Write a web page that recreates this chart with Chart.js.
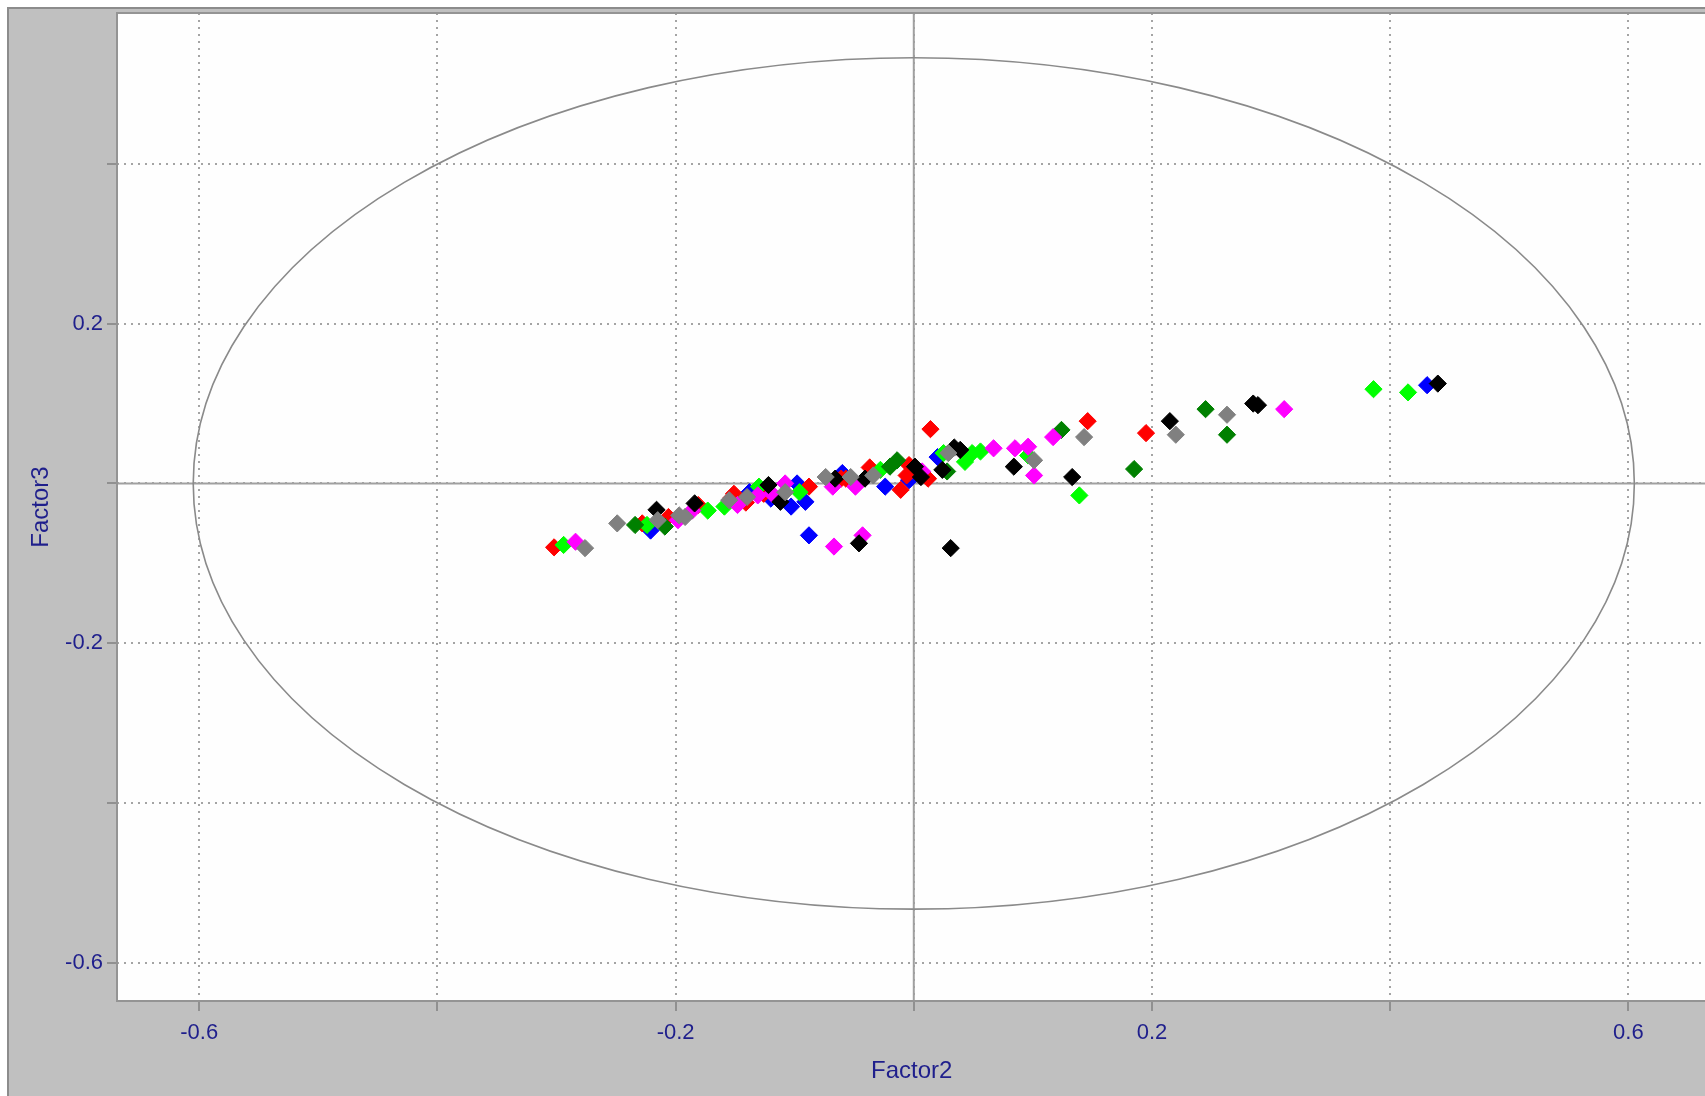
<!DOCTYPE html>
<html>
<head>
<meta charset="utf-8">
<script src="https://cdn.jsdelivr.net/npm/chart.js@4.4.0/dist/chart.umd.min.js"></script>
<style>
    html, body { margin: 0; padding: 0; background: #ffffff; overflow: hidden; }
    #wrap { width: 1716px; height: 1096px; position: relative; }
</style>
</head>
<body>
<div id="wrap"><canvas id="chart"></canvas></div>
<script>
// Axis ranges and ticks
const xRange = [-0.669, 0.6655];
const yRange = [-0.648, 0.589];
const xTicks = [-0.6, -0.4, -0.2, 0, 0.2, 0.4, 0.6];
const yTicks = [-0.6, -0.4, -0.2, 0, 0.2, 0.4];
const xTickLabels = ['-0.6', '-0.2', '0.2', '0.6'];
const yTickLabels = ['-0.6', '-0.2', '0.2'];
const xTitle = 'Factor2';
const yTitle = 'Factor3';

// Correlation ellipse (centre and radii, in axis units)
const ellipseCenter = [0, 0];
const ellipseRadius = [0.605, 0.533];

// Points per group [Factor2, Factor3]
const redPoints = [
    [-0.302, -0.080], [-0.228, -0.050], [-0.206, -0.042], [-0.181, -0.027], [-0.153, -0.018],
    [-0.151, -0.013], [-0.141, -0.024], [-0.126, -0.013], [-0.088, -0.004], [-0.061, 0.006],
    [-0.057, 0.006], [-0.037, 0.020], [-0.011, -0.008], [-0.006, 0.010], [-0.004, 0.023],
    [0.012, 0.006], [0.014, 0.068], [0.146, 0.078], [0.195, 0.063]
];
const limePoints = [
    [-0.294, -0.077], [-0.224, -0.052], [-0.173, -0.034], [-0.159, -0.029], [-0.130, -0.004],
    [-0.096, -0.011], [-0.028, 0.017], [0.025, 0.038], [0.043, 0.027], [0.049, 0.038],
    [0.056, 0.040], [0.096, 0.035], [0.139, -0.015], [0.386, 0.118], [0.415, 0.114]
];
const magentaPoints = [
    [-0.284, -0.073], [-0.198, -0.046], [-0.186, -0.034], [-0.148, -0.027], [-0.131, -0.015],
    [-0.119, -0.013], [-0.108, 0.000], [-0.068, -0.004], [-0.067, -0.079], [-0.049, -0.004],
    [-0.043, -0.065], [0.007, 0.015], [0.067, 0.044], [0.085, 0.044], [0.096, 0.046],
    [0.101, 0.010], [0.117, 0.058], [0.311, 0.093]
];
const greyPoints = [
    [-0.276, -0.081], [-0.249, -0.050], [-0.215, -0.046], [-0.197, -0.040], [-0.192, -0.042],
    [-0.155, -0.021], [-0.140, -0.017], [-0.108, -0.011], [-0.074, 0.008], [-0.053, 0.008],
    [-0.034, 0.010], [0.029, 0.038], [0.101, 0.029], [0.143, 0.058], [0.220, 0.061],
    [0.263, 0.086]
];
const darkGreenPoints = [
    [-0.234, -0.052], [-0.209, -0.054], [-0.020, 0.021], [-0.014, 0.029], [0.028, 0.015],
    [0.124, 0.067], [0.185, 0.018], [0.245, 0.093], [0.263, 0.061]
];
const blackPoints = [
    [-0.216, -0.033], [-0.184, -0.025], [-0.122, -0.002], [-0.112, -0.023], [-0.066, 0.006],
    [-0.046, -0.075], [-0.041, 0.006], [0.001, 0.021], [0.006, 0.008], [0.024, 0.017],
    [0.031, -0.081], [0.034, 0.045], [0.039, 0.042], [0.084, 0.021], [0.133, 0.008],
    [0.215, 0.078], [0.285, 0.100], [0.289, 0.098], [0.440, 0.125]
];
const bluePoints = [
    [-0.221, -0.059], [-0.138, -0.011], [-0.120, -0.019], [-0.103, -0.029], [-0.098, 0.000],
    [-0.091, -0.023], [-0.088, -0.065], [-0.060, 0.013], [-0.024, -0.004], [-0.004, 0.004],
    [0.020, 0.033], [0.431, 0.123]
];

// First dataset ends up on top
const groups = [
    { points: greyPoints, color: '#808080' },
    { points: blackPoints, color: '#000000' },
    { points: magentaPoints, color: '#ff00ff' },
    { points: darkGreenPoints, color: '#008000' },
    { points: limePoints, color: '#00ff00' },
    { points: redPoints, color: '#ff0000' },
    { points: bluePoints, color: '#0000ff' }
];

const labelColor = '#1f1f8c';
const fontFamily = "'Liberation Sans', Arial, sans-serif";

// Grey window background, white plot area, frames
const backgroundPlugin = {
    id: 'background',
    beforeDraw(chart) {
        const { ctx, chartArea } = chart;
        ctx.save();
        ctx.fillStyle = '#ffffff';
        ctx.fillRect(0, 0, chart.width, chart.height);
        ctx.fillStyle = '#c0c0c0';
        ctx.fillRect(7, 7, chart.width, chart.height);
        ctx.strokeStyle = '#8c8c8c';
        ctx.lineWidth = 2;
        ctx.strokeRect(8, 8, chart.width + 20, chart.height + 20);
        ctx.fillStyle = '#fefefe';
        ctx.fillRect(chartArea.left, chartArea.top, chartArea.right - chartArea.left + 20, chartArea.bottom - chartArea.top);
        ctx.restore();
    }
};

// Zero axes, ellipse and plot frame
const overlayPlugin = {
    id: 'overlay',
    beforeDatasetsDraw(chart) {
        const { ctx, chartArea, scales } = chart;
        const x = scales.x;
        const y = scales.y;
        ctx.save();
        ctx.strokeStyle = '#a0a0a0';
        ctx.lineWidth = 2;
        ctx.beginPath();
        ctx.moveTo(x.getPixelForValue(0), chartArea.top);
        ctx.lineTo(x.getPixelForValue(0), chartArea.bottom);
        ctx.moveTo(chartArea.left, y.getPixelForValue(0));
        ctx.lineTo(chartArea.right + 20, y.getPixelForValue(0));
        ctx.stroke();

        const cx = x.getPixelForValue(ellipseCenter[0]);
        const cy = y.getPixelForValue(ellipseCenter[1]);
        const rx = x.getPixelForValue(ellipseCenter[0] + ellipseRadius[0]) - cx;
        const ry = cy - y.getPixelForValue(ellipseCenter[1] + ellipseRadius[1]);
        ctx.strokeStyle = '#8a8a8a';
        ctx.lineWidth = 1.6;
        ctx.beginPath();
        ctx.ellipse(cx, cy, rx, ry, 0, 0, Math.PI * 2);
        ctx.stroke();

        ctx.strokeStyle = '#949494';
        ctx.lineWidth = 2;
        ctx.strokeRect(chartArea.left, chartArea.top, chartArea.right - chartArea.left + 20, chartArea.bottom - chartArea.top);
        ctx.restore();
    }
};

function tickLabel(list) {
    return function (value) {
        const s = (Math.round(value * 10) / 10).toFixed(1);
        return list.includes(s) ? s : '';
    };
}

// Fixed axis boxes, no extra room for edge labels
function fixBox(size) {
    return function (scale) {
        if (scale.isHorizontal()) {
            scale.height = size;
        } else {
            scale.width = size;
        }
        scale.paddingTop = 0;
        scale.paddingBottom = 0;
        scale.paddingLeft = 0;
        scale.paddingRight = 0;
    };
}

const ctx = document.getElementById('chart').getContext('2d');
new Chart(ctx, {
    type: 'scatter',
    data: {
        datasets: groups.map(g => ({
            data: g.points.map(p => ({ x: p[0], y: p[1] })),
            pointStyle: 'rectRot',
            pointRadius: 8.6,
            pointBorderWidth: 1,
            backgroundColor: g.color,
            borderColor: g.color
        }))
    },
    options: {
        responsive: true,
        maintainAspectRatio: false,
        animation: false,
        events: [],
        layout: { padding: { top: 13, left: 0, right: 0, bottom: 0 } },
        plugins: {
            legend: { display: false },
            tooltip: { enabled: false }
        },
        scales: {
            x: {
                type: 'linear',
                min: xRange[0],
                max: xRange[1],
                afterBuildTicks: scale => { scale.ticks = xTicks.map(v => ({ value: v })); },
                afterFit: fixBox(95),
                border: { display: false, dash: [2, 5] },
                grid: {
                    color: '#a4a4a4',
                    lineWidth: 2,
                    drawTicks: true,
                    tickLength: 10,
                    tickColor: '#909090',
                    tickWidth: 2
                },
                ticks: {
                    autoSkip: false,
                    maxRotation: 0,
                    padding: 9,
                    color: labelColor,
                    font: { family: fontFamily, size: 22 },
                    callback: tickLabel(xTickLabels)
                },
                title: {
                    display: true,
                    text: xTitle,
                    color: labelColor,
                    font: { family: fontFamily, size: 24 },
                    padding: { top: 0, bottom: 10 }
                }
            },
            y: {
                type: 'linear',
                min: yRange[0],
                max: yRange[1],
                afterBuildTicks: scale => { scale.ticks = yTicks.map(v => ({ value: v })); },
                afterFit: fixBox(117),
                border: { display: false, dash: [2, 5] },
                grid: {
                    color: '#a4a4a4',
                    lineWidth: 2,
                    drawTicks: true,
                    tickLength: 10,
                    tickColor: '#909090',
                    tickWidth: 2
                },
                ticks: {
                    autoSkip: false,
                    padding: 4,
                    color: labelColor,
                    font: { family: fontFamily, size: 22 },
                    callback: tickLabel(yTickLabels)
                },
                title: {
                    display: true,
                    text: yTitle,
                    color: labelColor,
                    font: { family: fontFamily, size: 24 },
                    padding: { top: 27, bottom: 0 }
                }
            }
        }
    },
    plugins: [backgroundPlugin, overlayPlugin]
});
</script>
</body>
</html>
